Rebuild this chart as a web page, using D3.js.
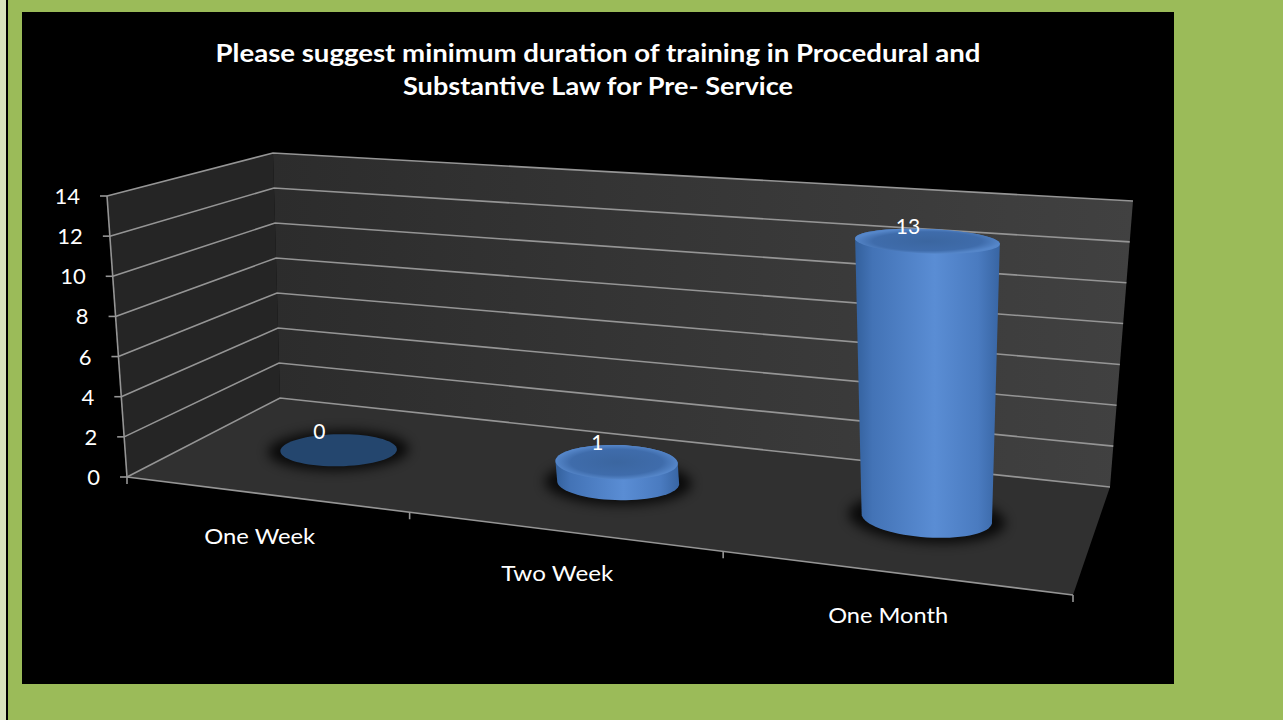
<!DOCTYPE html>
<html>
<head>
<meta charset="utf-8">
<script src="https://cdn.jsdelivr.net/npm/d3@7"></script>
<style>
body { margin: 0; background: #9bbb59; }
svg { display: block; }
text { font-family: 'Lato', 'Open Sans', sans-serif; fill: #fff; }
</style>
</head>
<body>
<svg id="chart"></svg>
<script>
var categories = ['One Week', 'Two Week', 'One Month'];
var values = [0, 1, 13];
var yTicks = [0, 2, 4, 6, 8, 10, 12, 14];
var titleLines = ['Please suggest minimum duration of training in Procedural and',
    'Substantive Law for Pre- Service'];

var svgWidth = 1283;
var svgHeight = 720;

var svg = d3.select('#chart')
    .attr('width', svgWidth)
    .attr('height', svgHeight);

// page frame
svg.append('rect').attr('width', svgWidth).attr('height', svgHeight).attr('fill', '#9bbb59');
svg.append('rect').attr('x', 0).attr('width', 6).attr('height', svgHeight).attr('fill', '#d8e4bc');
svg.append('rect').attr('x', 6).attr('width', 2).attr('height', svgHeight).attr('fill', '#000');
svg.append('rect').attr('x', 22).attr('y', 12).attr('width', 1152).attr('height', 672).attr('fill', '#000');

var defs = svg.append('defs');
var side = defs.append('linearGradient').attr('id', 'side');
[['0%', '#33609c'], ['12%', '#4373b6'], ['55%', '#5a8dd4'], ['85%', '#4a7bc0'], ['100%', '#3865a3']]
    .forEach(function(s) { side.append('stop').attr('offset', s[0]).attr('stop-color', s[1]); });
var topGrad = defs.append('radialGradient').attr('id', 'topg');
[['0%', '#3b66a0'], ['75%', '#3f6cab'], ['100%', '#5586c9']]
    .forEach(function(s) { topGrad.append('stop').attr('offset', s[0]).attr('stop-color', s[1]); });
var wallGrad = defs.append('linearGradient').attr('id', 'wall');
wallGrad.append('stop').attr('offset', '0%').attr('stop-color', '#2c2c2c');
wallGrad.append('stop').attr('offset', '100%').attr('stop-color', '#414141');
defs.append('filter').attr('id', 'blur')
    .attr('x', '-50%').attr('y', '-50%').attr('width', '200%').attr('height', '200%')
    .append('feGaussianBlur').attr('stdDeviation', 6);

// screen corners of the 3d box: front-left, front-right, back-right, back-left
var floorQuad = [[127, 477], [1073, 595], [1110, 487], [280, 398]];
var topQuad = [[107, 196], [1098, 269], [1133, 201], [273, 153]];

function homography(q) {
    var x0 = q[0][0], y0 = q[0][1], x1 = q[1][0], y1 = q[1][1];
    var x2 = q[2][0], y2 = q[2][1], x3 = q[3][0], y3 = q[3][1];
    var dx1 = x1 - x2, dx2 = x3 - x2, dx3 = x0 - x1 + x2 - x3;
    var dy1 = y1 - y2, dy2 = y3 - y2, dy3 = y0 - y1 + y2 - y3;
    var den = dx1 * dy2 - dy1 * dx2;
    var g = (dx3 * dy2 - dy3 * dx2) / den;
    var h = (dx1 * dy3 - dy1 * dx3) / den;
    var a = x1 - x0 + g * x1, b = x3 - x0 + h * x3;
    var d = y1 - y0 + g * y1, e = y3 - y0 + h * y3;
    return function(u, v) {
        var w = g * u + h * v + 1;
        return [(a * u + b * v + x0) / w, (d * u + e * v + y0) / w];
    };
}
var floorH = homography(floorQuad);
var topH = homography(topQuad);

var xScale = d3.scaleBand().domain(categories).range([0, 1]);
var yScale = d3.scaleLinear().domain([0, 14]).range([0, 1]);

function project(u, v, val) {
    var p0 = floorH(u, v), p1 = topH(u, v), t = yScale(val);
    return [p0[0] + (p1[0] - p0[0]) * t, p0[1] + (p1[1] - p0[1]) * t];
}

var line = d3.line();
var chartGroup = svg.append('g');

// walls and floor
chartGroup.append('path')
    .attr('d', line([project(0, 0, 0), project(0, 1, 0), project(0, 1, 14), project(0, 0, 14)]) + 'Z')
    .attr('fill', '#252525');
chartGroup.append('path')
    .attr('d', line([project(0, 1, 0), project(1, 1, 0), project(1, 1, 14), project(0, 1, 14)]) + 'Z')
    .attr('fill', 'url(#wall)');
chartGroup.append('path')
    .attr('d', line([project(0, 0, 0), project(1, 0, 0), project(1, 1, 0), project(0, 1, 0)]) + 'Z')
    .attr('fill', '#303030');

// gridlines
chartGroup.selectAll('path.grid')
    .data(yTicks)
    .enter()
    .append('path')
    .attr('class', 'grid')
    .attr('d', t => line([project(0, 0, t), project(0, 1, t), project(1, 1, t)]))
    .attr('fill', 'none')
    .attr('stroke', '#959595')
    .attr('stroke-width', 1.6);

// value axis
chartGroup.append('path')
    .attr('d', line([project(0, 0, 0), project(0, 0, 14)]))
    .attr('stroke', '#959595').attr('stroke-width', 1.6);
yTicks.forEach(function(t) {
    var p = project(0, 0, t);
    chartGroup.append('line')
        .attr('x1', p[0] - 7).attr('x2', p[0]).attr('y1', p[1]).attr('y2', p[1])
        .attr('stroke', '#959595').attr('stroke-width', 1.6);
    chartGroup.append('text')
        .attr('x', p[0] - 27).attr('y', p[1] + 8)
        .attr('text-anchor', 'end')
        .attr('font-size', '22px')
        .text(t);
});

// category axis along the front edge of the floor
chartGroup.append('path')
    .attr('d', line([project(0, 0, 0), project(1, 0, 0)]))
    .attr('stroke', '#959595').attr('stroke-width', 1.6);
categories.map(c => xScale(c)).concat([1]).forEach(function(u) {
    var p = project(u, 0, 0);
    chartGroup.append('line')
        .attr('x1', p[0]).attr('x2', p[0]).attr('y1', p[1]).attr('y2', p[1] + 7)
        .attr('stroke', '#959595').attr('stroke-width', 1.6);
});
var labelWidths = [111, 112, 120];
categories.forEach(function(c, i) {
    var p = project(xScale(c) + xScale.bandwidth() / 2, 0, 0);
    chartGroup.append('text')
        .attr('x', p[0] - 5).attr('y', p[1] + 50)
        .attr('text-anchor', 'middle')
        .attr('font-size', '22px')
        .attr('textLength', labelWidths[i])
        .attr('lengthAdjust', 'spacingAndGlyphs')
        .text(c);
});

// cylinders
var ru = 0.066, rv = 0.18;
var angles = d3.range(0, 73).map(k => k / 72 * 2 * Math.PI);
values.forEach(function(val, i) {
    var u = xScale(categories[i]) + xScale.bandwidth() / 2, v = 0.5;
    var base = angles.map(a => project(u + ru * Math.cos(a), v + rv * Math.sin(a), 0));
    var shadow = angles.map(a => project(u + ru * 1.2 * Math.cos(a), v + rv * 1.25 * Math.sin(a), 0));
    var topPts = angles.map(a => project(u + ru * Math.cos(a), v + rv * Math.sin(a), val));

    chartGroup.append('path')
        .attr('d', line(shadow) + 'Z')
        .attr('fill', '#000').attr('opacity', 0.8)
        .attr('filter', 'url(#blur)');

    if (val > 0) {
        chartGroup.append('path')
            .attr('d', line(d3.polygonHull(base.concat(topPts))) + 'Z')
            .attr('fill', 'url(#side)');
        chartGroup.append('path')
            .attr('d', line(topPts) + 'Z')
            .attr('fill', 'url(#topg)');
    } else {
        chartGroup.append('path')
            .attr('d', line(topPts) + 'Z')
            .attr('fill', '#24466e');
    }

    var cx = d3.mean(topPts, p => p[0]);
    var minY = d3.min(topPts, p => p[1]);
    chartGroup.append('text')
        .attr('x', cx - 20).attr('y', minY + 5)
        .attr('text-anchor', 'middle')
        .attr('font-size', '21px')
        .text(val);
});

// title
titleLines.forEach(function(t, i) {
    svg.append('text')
        .attr('x', 598).attr('y', 62 + i * 33)
        .attr('text-anchor', 'middle')
        .attr('font-size', '25px')
        .attr('font-weight', 'bold')
        .attr('textLength', i === 0 ? 765 : 390)
        .attr('lengthAdjust', 'spacingAndGlyphs')
        .text(t);
});
</script>
</body>
</html>
